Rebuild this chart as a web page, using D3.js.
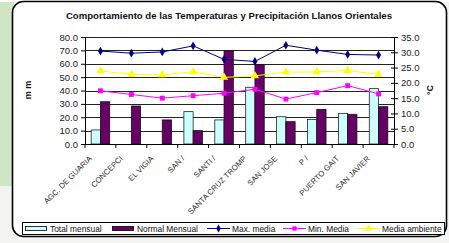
<!DOCTYPE html>
<html><head><meta charset="utf-8">
<script src="https://cdn.jsdelivr.net/npm/d3@7"></script>
<style>body{margin:0;padding:0;background:#fff}svg{display:block;font-family:"Liberation Sans",Arial,sans-serif}</style>
</head><body>
<script>
const categories = ["AGC. DE GUARIA","CONCEPCI","EL VIGIA","SAN /","SANTI /","SANTA CRUZ TROMP","SAN JOSE","P /","PUERTO GAIT","SAN JAVIER"];
const totalMensual = [10.5, 0, 0, 24.2, 18.0, 42.4, 20.4, 18.4, 22.9, 41.4];
const normalMensual = [31.6, 28.4, 18.0, 10.0, 69.8, 59.3, 16.7, 25.9, 22.2, 27.9];
const maxMedia = [30.4, 29.7, 30.1, 32.1, 27.7, 27.0, 32.3, 30.7, 29.3, 29.1];
const minMedia = [17.4, 16.2, 15.0, 15.8, 16.6, 17.9, 14.7, 16.8, 19.1, 16.4];
const mediaAmbiente = [23.9, 22.8, 22.6, 23.6, 21.8, 22.3, 23.5, 23.6, 24.0, 22.8];
const leftTicks = [0,10,20,30,40,50,60,70,80];
const rightTicks = [0,5,10,15,20,25,30,35];
const title = "Comportamiento de las Temperaturas y Precipitación Llanos Orientales";

const W = 449, H = 243;
const svg = d3.select("body").append("svg").attr("width", W).attr("height", H);

// page background
svg.append("rect").attr("width", W).attr("height", H).attr("fill", "#f3f3f1");
svg.append("rect").attr("x", 0).attr("y", 0).attr("width", 14).attr("height", 186).attr("fill", "#cfe6c6");
svg.append("rect").attr("x", 0).attr("y", 0).attr("width", W).attr("height", 2).attr("fill", "#ffffff");

// chart box
svg.append("rect").attr("x", 12.5).attr("y", 1.5).attr("width", 434).attr("height", 235)
  .attr("rx", 11).attr("ry", 11).attr("fill", "#fff").attr("stroke", "#000").attr("stroke-width", 1.6);

svg.append("text").attr("x", 229).attr("y", 19).attr("text-anchor", "middle")
  .attr("font-size", 9.6).attr("font-weight", "bold").attr("fill", "#111").text(title);

const px0 = 85, px1 = 394, pyT = 37, pyB = 144;
const x = d3.scaleBand().domain(categories).range([px0, px1]).padding(0);
const yL = d3.scaleLinear().domain([0, 80]).range([pyB, pyT]);
const yR = d3.scaleLinear().domain([0, 35]).range([pyB, pyT]);

const g = svg.append("g");
// gridlines
g.selectAll(".grid").data(leftTicks.filter(d => d > 0)).join("line")
  .attr("x1", px0).attr("x2", px1)
  .attr("y1", d => Math.round(yL(d)) + 0.5).attr("y2", d => Math.round(yL(d)) + 0.5)
  .attr("stroke", "#222").attr("stroke-width", 1);

// bars
const bw = x.step() * 0.3;
const cx = d => x(d) + x.bandwidth() / 2;
g.selectAll(".bt").data(categories.map((c, i) => ({c, v: totalMensual[i]})).filter(d => d.v > 0)).join("rect")
  .attr("x", d => cx(d.c) - bw).attr("width", bw)
  .attr("y", d => yL(d.v)).attr("height", d => yL(0) - yL(d.v))
  .attr("fill", "#ccffff").attr("stroke", "#222").attr("stroke-width", 0.8);
g.selectAll(".bn").data(categories.map((c, i) => ({c, v: normalMensual[i]})).filter(d => d.v > 0)).join("rect")
  .attr("x", d => cx(d.c)).attr("width", bw)
  .attr("y", d => yL(d.v)).attr("height", d => yL(0) - yL(d.v))
  .attr("fill", "#660066").attr("stroke", "#111").attr("stroke-width", 0.8);

// lines
function series(vals, color, sym, size) {
  const pts = categories.map((c, i) => [cx(c), yR(vals[i])]);
  g.append("path").attr("d", d3.line()(pts)).attr("fill", "none").attr("stroke", color).attr("stroke-width", 1);
  g.selectAll(null).data(pts).join("path")
    .attr("transform", d => `translate(${d[0]},${d[1]})`)
    .attr("d", d3.symbol().type(sym).size(size)).attr("fill", color);
}
series(mediaAmbiente, "#ffff00", d3.symbolTriangle, 30);
series(minMedia, "#ff00ff", d3.symbolSquare, 24);
series(maxMedia, "#000080", d3.symbolDiamond, 22);

// axes
const axL = svg.append("g").attr("transform", `translate(${px0},0)`)
  .call(d3.axisLeft(yL).tickValues(leftTicks).tickFormat(d3.format(".1f")).tickSize(4).tickSizeOuter(0));
const axR = svg.append("g").attr("transform", `translate(${px1},0)`)
  .call(d3.axisRight(yR).tickValues(rightTicks).tickFormat(d3.format(".1f")).tickSize(4).tickSizeOuter(0));
axR.selectAll(".tick line").attr("x1", -3);
[axL, axR].forEach(a => {
  a.select(".domain").attr("stroke", "#000").attr("stroke-width", 1);
  a.selectAll(".tick line").attr("stroke", "#000");
  a.selectAll("text").attr("font-size", 9.5).attr("fill", "#222").attr("font-family", "Liberation Sans, Arial, sans-serif");
});
axR.selectAll("text").attr("x", 7);

// x axis
const axB = svg.append("g").attr("transform", `translate(0,${pyB})`);
axB.append("line").attr("x1", px0).attr("x2", px1).attr("y1", 0.5).attr("y2", 0.5).attr("stroke", "#000");
const bounds = categories.map(c => x(c)).concat([px1]);
axB.selectAll(".tk").data(bounds).join("line")
  .attr("x1", d => d).attr("x2", d => d).attr("y1", 0).attr("y2", 4).attr("stroke", "#000");
axB.selectAll(".lab").data(categories).join("text")
  .attr("transform", d => `translate(${cx(d) - 8},${15}) rotate(-45)`)
  .attr("text-anchor", "end").attr("font-size", 7.8).attr("fill", "#333")
  .text(d => d);

// axis titles
svg.append("text").attr("transform", "translate(31,90) rotate(-90)").attr("text-anchor", "middle")
  .attr("font-size", 9).attr("font-weight", "bold").attr("fill", "#111").text("m m");
svg.append("text").attr("transform", "translate(433,90) rotate(-90)").attr("text-anchor", "middle")
  .attr("font-size", 9).attr("font-weight", "bold").attr("fill", "#111").text("°C");

// legend
const lg = svg.append("g");
lg.append("rect").attr("x", 22.5).attr("y", 222.5).attr("width", 422).attr("height", 12).attr("fill", "#fff").attr("stroke", "#000");
const items = [
  {name: "Total mensual", kind: "bar", color: "#ccffff", x: 25},
  {name: "Normal Mensual", kind: "bar", color: "#660066", x: 112},
  {name: "Max. media", kind: "line", color: "#000080", sym: d3.symbolDiamond, size: 18, x: 207},
  {name: "Min. Media", kind: "line", color: "#ff00ff", sym: d3.symbolSquare, size: 18, x: 283},
  {name: "Media ambiente", kind: "line", color: "#ffff00", sym: d3.symbolTriangle, size: 22, x: 357}
];
items.forEach(it => {
  if (it.kind === "bar") {
    lg.append("rect").attr("x", it.x + 0.5).attr("y", 226.5).attr("width", 21).attr("height", 4)
      .attr("fill", it.color).attr("stroke", "#000").attr("stroke-width", 0.8);
  } else {
    lg.append("line").attr("x1", it.x).attr("x2", it.x + 23).attr("y1", 228.5).attr("y2", 228.5).attr("stroke", it.color);
    lg.append("path").attr("transform", `translate(${it.x + 11.5},228.5)`).attr("d", d3.symbol().type(it.sym).size(it.size)).attr("fill", it.color);
  }
  lg.append("text").attr("x", it.x + 25).attr("y", 231.8).attr("font-size", 8.4).attr("fill", "#111").text(it.name);
});
</script>
</body></html>
